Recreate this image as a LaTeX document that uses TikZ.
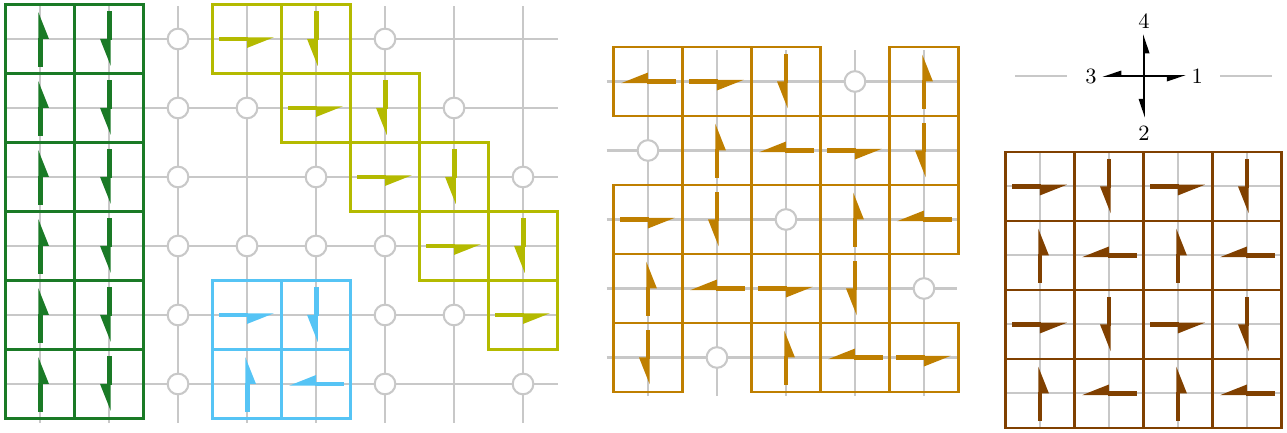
\documentclass[tikz,border=0pt]{standalone}
\definecolor{dgreen}{RGB}{26,122,38}
\definecolor{dolive}{RGB}{180,186,0}
\definecolor{dblue}{RGB}{86,196,245}
\definecolor{dorange}{RGB}{191,127,0}
\definecolor{dbrown}{RGB}{128,64,0}
\definecolor{lgray}{RGB}{200,200,200}

% one dimer cell: x, y, angle, colour
\newcommand{\dimerbox}[4]{%
  \begin{scope}[shift={(#1,#2)}]
    \draw[#4,line width=1.15pt] (-0.5,-0.5) rectangle (0.5,0.5);
    \begin{scope}[rotate=#3]
      \fill[#4] (-0.40,-0.036) rectangle (0.02,0.036);
      \fill[#4] (0,0.025) -- (0.39,0.025) -- (0,-0.13) -- cycle;
    \end{scope}
  \end{scope}}

\begin{document}
\begin{tikzpicture}[lattice/.style={lgray,line width=0.85pt},
  site/.style={draw=lgray,fill=white,line width=0.85pt},
  every node/.style={font=\small}]
  \useasboundingbox (0,0) rectangle (18.652,6.261);

  % left lattice
  \begin{scope}[shift={(0.58,5.696)}]
    \foreach \i in {0,...,7} {\draw[lattice] (\i,0.478) -- (\i,-5.566);}
    \foreach \j in {0,...,5} {\draw[lattice] (-0.5,-\j) -- (7.5,-\j);}
    \foreach \i/\j in {2/0,5/0,2/1,3/1,6/1,2/2,4/2,7/2,2/3,3/3,4/3,5/3,2/4,5/4,6/4,2/5,5/5,7/5}
      {\draw[site] (\i,-\j) circle (0.15);}
    \foreach \j in {0,...,5} {\dimerbox{0}{-\j}{90}{dgreen} \dimerbox{1}{-\j}{270}{dgreen}}
    \foreach \i/\j/\a in {3/0/0,4/0/270,4/1/0,5/1/270,5/2/0,6/2/270,6/3/0,7/3/270,7/4/0}
      {\dimerbox{\i}{-\j}{\a}{dolive}}
    \foreach \i/\j/\a in {3/4/0,4/4/270,3/5/90,4/5/180}
      {\dimerbox{\i}{-\j}{\a}{dblue}}
  \end{scope}

  % middle lattice
  \begin{scope}[shift={(9.391,5.08)}]
    \foreach \k in {0,...,4} {
      \draw[lattice] (\k,0.456) -- (\k,-4.558);
      \draw[lattice] (-0.6,-\k) -- (4.48,-\k);}
    \foreach \i/\j in {3/0,0/1,2/2,4/3,1/4} {\draw[site] (\i,-\j) circle (0.15);}
    \foreach \i/\j/\a in {0/0/180,1/0/0,2/0/270,4/0/90,
                          1/1/90,2/1/180,3/1/0,4/1/270,
                          0/2/0,1/2/270,3/2/90,4/2/180,
                          0/3/90,1/3/180,2/3/0,3/3/270,
                          0/4/270,2/4/90,3/4/180,4/4/0}
      {\dimerbox{\i}{-\j}{\a}{dorange}}
  \end{scope}

  % legend
  \begin{scope}[shift={(16.58,5.159)}]
    \draw[lattice] (-1.87,0) -- (-1.116,0);
    \draw[lattice] (1.101,0) -- (1.855,0);
    \foreach \a in {0,90,180,270} {
      \begin{scope}[rotate=\a]
        \fill (0,-0.018) rectangle (0.34,0.018);
        \fill (0.33,0.012) -- (0.6,0.012) -- (0.33,-0.08) -- cycle;
      \end{scope}}
    \node (one) at (0.77,-0.01) {1};
    \node (two) at (0,-0.83) {2};
    \node (three) at (-0.77,-0.01) {3};
    \node (four) at (0,0.80) {4};
  \end{scope}

  % right lattice
  \begin{scope}[shift={(15.072,3.559)}]
    \foreach \k in {0,...,3} {
      \draw[lattice] (\k,0.5) -- (\k,-3.5);
      \draw[lattice] (-0.5,-\k) -- (3.5,-\k);}
    \foreach \i in {0,2} \foreach \j in {0,2} {
      \dimerbox{\i}{-\j}{0}{dbrown} \dimerbox{\i+1}{-\j}{270}{dbrown}
      \dimerbox{\i}{-\j-1}{90}{dbrown} \dimerbox{\i+1}{-\j-1}{180}{dbrown}}
  \end{scope}
\end{tikzpicture}
\end{document}
